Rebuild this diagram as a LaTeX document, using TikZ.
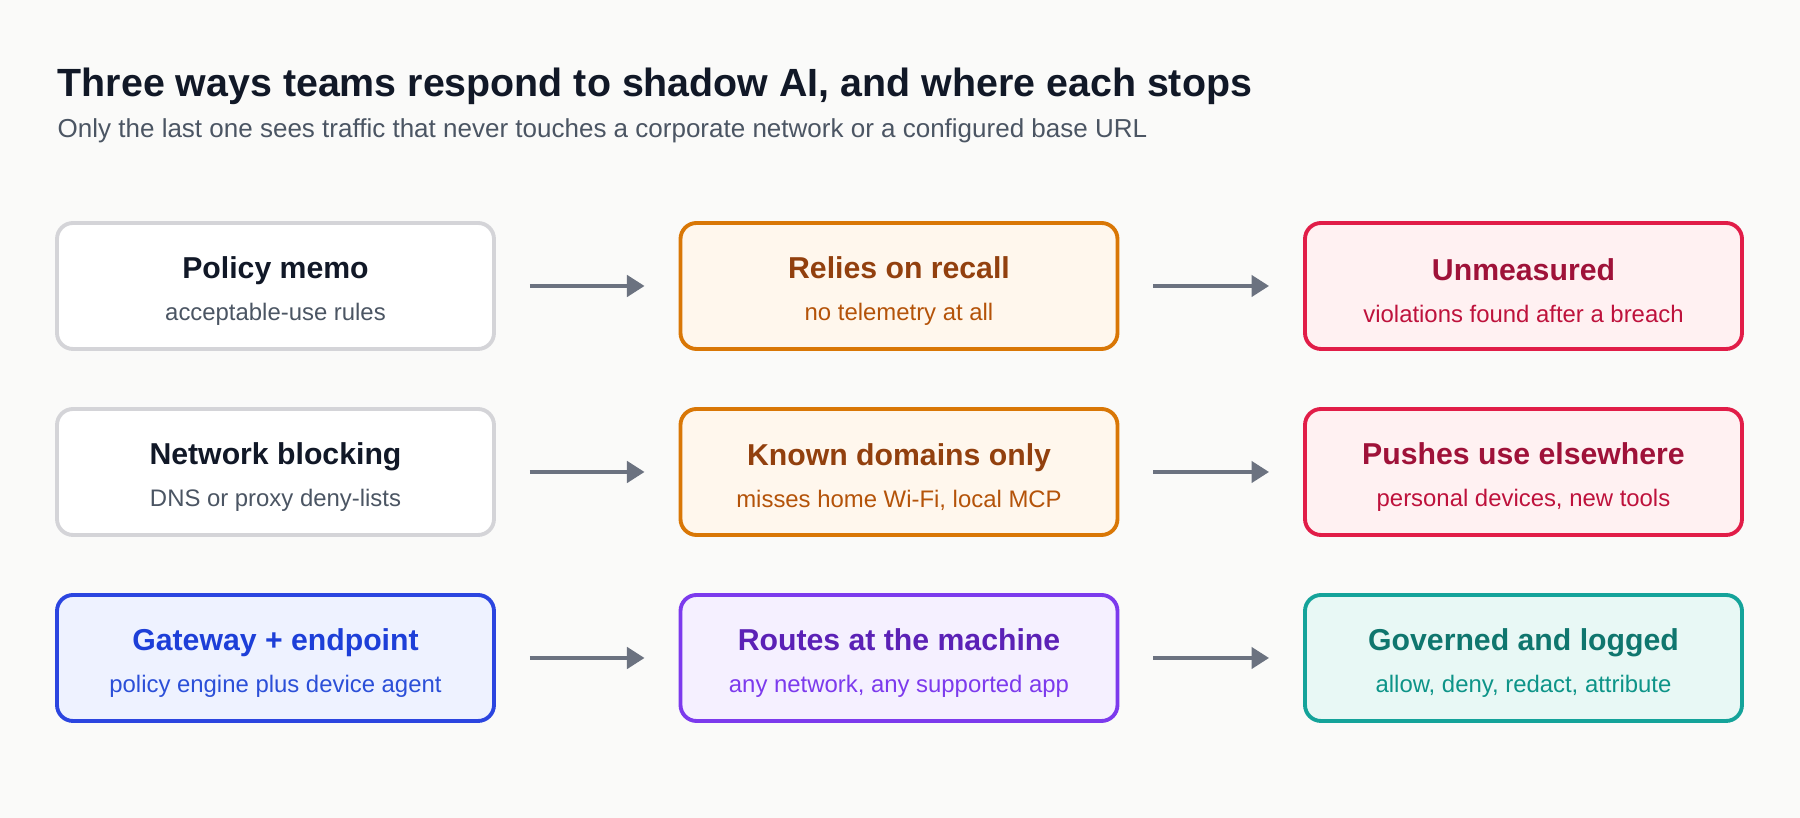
\documentclass[tikz,border=0pt]{standalone}
\usepackage{fontspec}
\setmainfont{Liberation Sans}
\usetikzlibrary{positioning,arrows.meta}
\definecolor{bgc}{HTML}{FAFAF9}
\definecolor{ink}{HTML}{111827}
\definecolor{muted}{HTML}{4B5563}
\definecolor{arr}{HTML}{6B7280}
\definecolor{grayb}{HTML}{D4D4D8}
\definecolor{orb}{HTML}{D97706}\definecolor{orf}{HTML}{FFF7ED}\definecolor{ort}{HTML}{92400E}\definecolor{ors}{HTML}{B45309}
\definecolor{rdb}{HTML}{E11D48}\definecolor{rdf}{HTML}{FFF1F2}\definecolor{rdt}{HTML}{9F1239}\definecolor{rds}{HTML}{BE123C}
\definecolor{blb}{HTML}{2B45E0}\definecolor{blf}{HTML}{EEF2FF}\definecolor{blt}{HTML}{1D3FD8}\definecolor{bls}{HTML}{2B4FD8}
\definecolor{pub}{HTML}{7C3AED}\definecolor{puf}{HTML}{F5F0FF}\definecolor{put}{HTML}{5B21B6}\definecolor{pus}{HTML}{7C3AED}
\definecolor{teb}{HTML}{14A39A}\definecolor{tef}{HTML}{E8F8F5}\definecolor{tet}{HTML}{0F766E}\definecolor{tes}{HTML}{0D9488}
\newcommand{\boxtext}[4]{\rule{0pt}{1pt}\\[-4pt]{\color{#1}\fontsize{8.6}{10}\selectfont\bfseries #2}\\[0pt]{\color{#3}\fontsize{6.8}{8}\selectfont #4}}
\tikzset{
  card/.style={draw=#1, line width=1.1pt, rounded corners=0.16cm, minimum width=4.37cm, minimum height=1.26cm, align=center, inner sep=0pt},
  flow/.style={arr, line width=1.2pt, -{Triangle[length=5pt,width=6pt]}}
}
\begin{document}
\begin{tikzpicture}
\useasboundingbox[fill=bgc] (0,0) rectangle (18,-8.18);
\node[anchor=base west, inner sep=0pt, ink, font=\fontsize{11.2}{13}\selectfont\bfseries] (title) at (0.57,-0.97) {Three ways teams respond to shadow AI, and where each stops};
\node[anchor=base west, inner sep=0pt, muted, font=\fontsize{7.4}{9}\selectfont] (sub) at (0.57,-1.38) {Only the last one sees traffic that never touches a corporate network or a configured base URL};
% row 1
\node[card=grayb, fill=white] (memo) at (2.755,-2.86) {\boxtext{ink}{Policy memo}{muted}{acceptable-use rules}};
\node[card=orb, fill=orf] (recall) at (8.99,-2.86) {\boxtext{ort}{Relies on recall}{ors}{no telemetry at all}};
\node[card=rdb, fill=rdf] (unmeas) at (15.235,-2.86) {\boxtext{rdt}{Unmeasured}{rds}{violations found after a breach}};
% row 2
\node[card=grayb, fill=white] (block) at (2.755,-4.72) {\boxtext{ink}{Network blocking}{muted}{DNS or proxy deny-lists}};
\node[card=orb, fill=orf] (known) at (8.99,-4.72) {\boxtext{ort}{Known domains only}{ors}{misses home Wi-Fi, local MCP}};
\node[card=rdb, fill=rdf] (pushes) at (15.235,-4.72) {\boxtext{rdt}{Pushes use elsewhere}{rds}{personal devices, new tools}};
% row 3
\node[card=blb, fill=blf] (gate) at (2.755,-6.58) {\boxtext{blt}{Gateway + endpoint}{bls}{policy engine plus device agent}};
\node[card=pub, fill=puf] (routes) at (8.99,-6.58) {\boxtext{put}{Routes at the machine}{pus}{any network, any supported app}};
\node[card=teb, fill=tef] (govern) at (15.235,-6.58) {\boxtext{tet}{Governed and logged}{tes}{allow, deny, redact, attribute}};
\foreach \a/\b in {memo/recall,recall/unmeas,block/known,known/pushes,gate/routes,routes/govern}
  \draw[flow] ([xshift=0.34cm]\a.east) -- ([xshift=-0.34cm]\b.west);
\end{tikzpicture}
\end{document}
